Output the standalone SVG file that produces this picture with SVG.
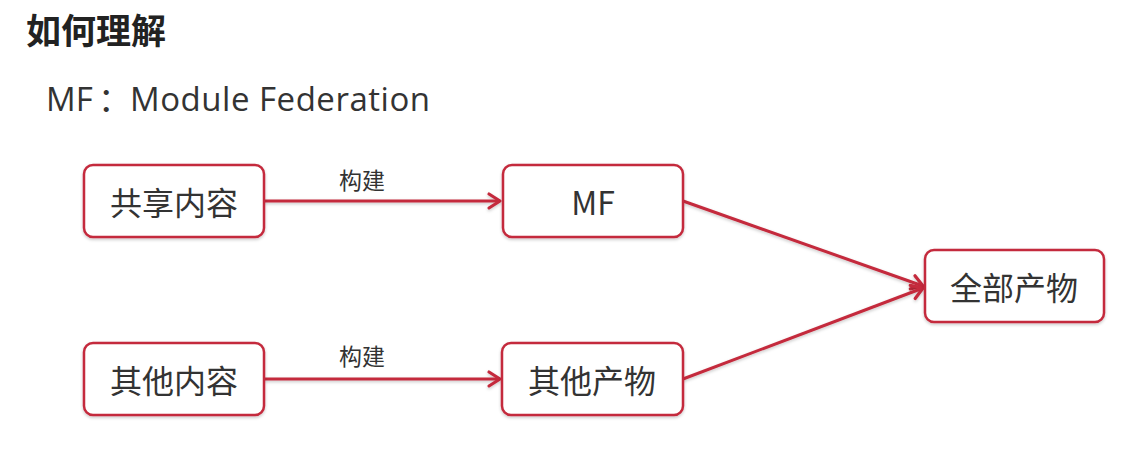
<svg xmlns="http://www.w3.org/2000/svg" width="1128" height="451" viewBox="0 0 1128 451">
<defs>
<marker id="arr" markerWidth="20" markerHeight="20" refX="14" refY="10" orient="auto" markerUnits="userSpaceOnUse">
<path d="M3,3 L14,10 L3,17" fill="none" stroke="#c42a3c" stroke-width="3.2" stroke-linecap="round" stroke-linejoin="round"/>
</marker>
<filter id="sh" filterUnits="userSpaceOnUse" x="0" y="0" width="1128" height="451">
<feDropShadow dx="0" dy="1.5" stdDeviation="1.5" flood-color="#000" flood-opacity="0.22"/>
</filter>
</defs>
<style>
.box{fill:#fff;stroke:#c42a3c;stroke-width:2.5;filter:url(#sh)}
.t{font-family:"Microsoft YaHei","Noto Sans CJK SC",sans-serif;font-size:32px;fill:#333;text-anchor:middle;dominant-baseline:central}
.lbl{font-family:"Noto Sans CJK SC",sans-serif;font-size:23px;fill:#333;text-anchor:middle}
.edge{stroke:#c42a3c;stroke-width:3;fill:none;marker-end:url(#arr);filter:url(#sh)}
</style>
<rect width="1128" height="451" fill="#fff"/>
<text x="26" y="44" font-family="'Noto Sans CJK SC',sans-serif" font-weight="bold" font-size="35" fill="#222">如何理解</text>
<g font-family="'Open Sans','Noto Sans CJK SC',sans-serif" font-size="33" fill="#333">
<text x="46" y="111">MF</text>
<text x="98" y="111">：</text>
<text x="130" y="111" textLength="300" lengthAdjust="spacing">Module Federation</text>
</g>
<g id="connectors">
<line class="edge" x1="264" y1="201" x2="500" y2="201"/>
<line class="edge" x1="264" y1="379" x2="500" y2="379"/>
<line class="edge" x1="683" y1="201" x2="923" y2="286"/>
<line class="edge" x1="683" y1="379" x2="923" y2="288"/>
<text class="lbl" x="362" y="189">构建</text>
<text class="lbl" x="362" y="365">构建</text>
</g>
<g id="n1"><rect class="box" x="84" y="165" width="180" height="72" rx="9"/><text class="t" x="174" y="201">共享内容</text></g>
<g id="n2"><rect class="box" x="503" y="165" width="180" height="72" rx="9"/><text class="t" x="593" y="201">MF</text></g>
<g id="n3"><rect class="box" x="925" y="250" width="179" height="72" rx="9"/><text class="t" x="1014" y="286">全部产物</text></g>
<g id="n4"><rect class="box" x="84" y="343" width="180" height="72" rx="9"/><text class="t" x="174" y="379">其他内容</text></g>
<g id="n5"><rect class="box" x="502" y="343" width="181" height="72" rx="9"/><text class="t" x="592" y="379">其他产物</text></g>
</svg>
